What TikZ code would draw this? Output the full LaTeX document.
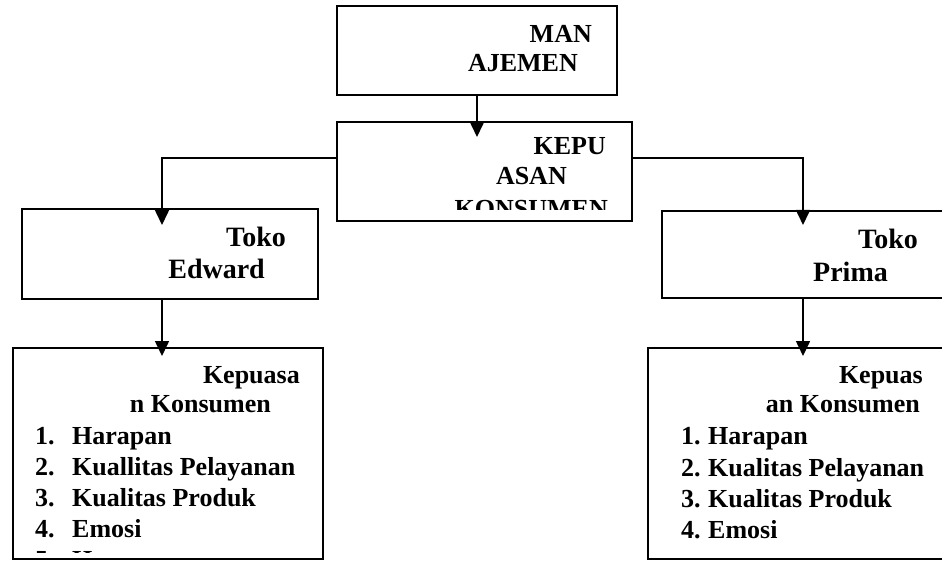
\documentclass[tikz,border=0pt]{standalone}
\usepackage{fontspec}
\setmainfont{Liberation Serif}
\usetikzlibrary{arrows.meta}
\tikzset{
  box/.style={draw=black, line width=1.6pt, rectangle, inner sep=0pt},
  arr/.style={draw=black, line width=1.6pt, -{Triangle[length=15pt,width=14pt]}},
  tx/.style={inner sep=0pt, font=\fontsize{26}{30}\selectfont\bfseries},
  tk/.style={inner sep=0pt, font=\fontsize{28}{32}\selectfont\bfseries},
}
\begin{document}
\begin{tikzpicture}[x=1pt, y=-1pt]
\clip (0,0) rectangle (942,561);
\fill[white] (0,0) rectangle (942,561);
% boxes
\node[box, line width=2pt, minimum width=280pt, minimum height=89pt] (man) at (477,50.5) {};
\node[box, minimum width=295pt, minimum height=99pt] (kep) at (484.5,171.5) {};
\node[box, minimum width=296pt, minimum height=90pt] (edw) at (170,254) {};
\node[box, minimum width=298pt, minimum height=87pt] (pri) at (811,254.5) {};
\node[box, minimum width=310pt, minimum height=211pt] (lb) at (168,453.5) {};
\node[box, minimum width=312pt, minimum height=211pt] (rb) at (804,453.5) {};
% texts
\node[tx, anchor=base east] (t1) at (592,43) {MAN};
\node[tx, anchor=base east] (t2) at (578,72) {AJEMEN};
\begin{scope}
\clip (337,122) rectangle (632,210);
\node[tx, anchor=base east] (t3) at (606,155) {KEPU};
\node[tx, anchor=base east] (t4) at (567,185) {ASAN};
\node[tx, anchor=base east] (t5) at (608,218) {KONSUMEN};
\end{scope}
\node[tk, anchor=base east] (t6) at (286,247) {Toko};
\node[tk, anchor=base east] (t7) at (265,279) {Edward};
\node[tk, anchor=base east] (t8) at (918,249) {Toko};
\node[tk, anchor=base east] (t9) at (888,282) {Prima};
% left list
\node[tx, anchor=base east] (l1) at (300,383) {Kepuasa};
\node[tx, anchor=base east] (l2) at (271,412) {n Konsumen};
\begin{scope}
\clip (13,348) rectangle (323,552);
\foreach \n/\w/\y in {1/Harapan/444, 2/Kuallitas Pelayanan/475, 3/Kualitas Produk/506, 4/Emosi/537, 5/Harga/568}{
  \node[tx, anchor=base west] (ln\n) at (35,\y) {\n.};
  \node[tx, anchor=base west] (lw\n) at (72,\y) {\w};
}
\end{scope}
% right list
\node[tx, anchor=base east] (r1) at (923,383) {Kepuas};
\node[tx, anchor=base east] (r2) at (920,412) {an Konsumen};
\foreach \n/\w/\y in {1/Harapan/444, 2/Kualitas Pelayanan/476, 3/Kualitas Produk/507, 4/Emosi/538}{
  \node[tx, anchor=base west] (rn\n) at (681,\y) {\n.};
  \node[tx, anchor=base west] (rw\n) at (708,\y) {\w};
}
% connector points
\coordinate (kin) at (477,137);
\coordinate (lx) at (162,158);
\coordinate (rx) at (803,158);
\coordinate (ein) at (162,225);
\coordinate (pin) at (803,225);
\coordinate (lbin) at (162,356);
\coordinate (rbin) at (803,356);
% connectors
\draw[arr] (man.south) -- (kin);
\draw[arr] (kep.west |- lx) -- (lx) -- (ein);
\draw[arr] (kep.east |- rx) -- (rx) -- (pin);
\draw[arr] (edw.south -| lbin) -- (lbin);
\draw[arr] (pri.south -| rbin) -- (rbin);
\end{tikzpicture}
\end{document}
